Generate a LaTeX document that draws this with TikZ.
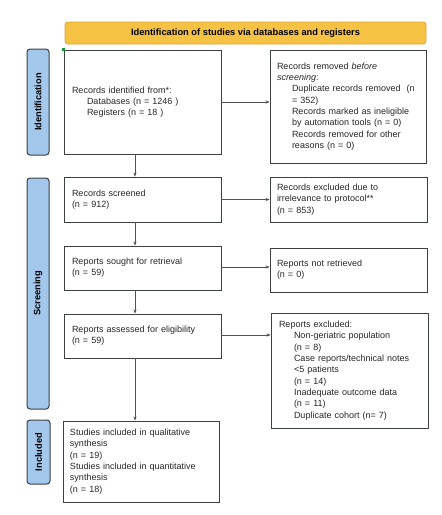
\documentclass[tikz,border=0pt]{standalone}
\usepackage{fontspec}
\setmainfont{Liberation Sans}
\usetikzlibrary{arrows.meta}
\definecolor{boxc}{HTML}{3C4043}
\definecolor{arrc}{HTML}{505050}
\definecolor{hdrfill}{HTML}{F6C244}
\definecolor{hdrdraw}{HTML}{E0A535}
\definecolor{sidefill}{HTML}{A4C8EC}
\definecolor{dotc}{HTML}{1E8E3E}
\newcommand{\ind}{\hspace*{15pt}}
\tikzset{
  txtfont/.style={font=\fontsize{9}{11.3}\selectfont},
  flowbox/.style={draw=boxc, line width=0.9pt, inner xsep=8pt, inner ysep=0pt, align=left, txtfont, text=black!85},
  sidebar/.style={draw=boxc, line width=1pt, fill=sidefill, rounded corners=3pt, inner sep=0pt,
    font=\fontsize{9.3}{11}\selectfont\bfseries},
  arr/.style={draw=arrc, line width=0.6pt, -{Stealth[length=4pt,width=3.2pt]}}
}
\begin{document}
\begin{tikzpicture}[x=1pt,y=-1pt]
\useasboundingbox (0,0) rectangle (442,515);
% header
\node[draw=hdrdraw, line width=0.8pt, fill=hdrfill, rounded corners=3pt, minimum width=361pt, minimum height=22pt,
  inner sep=0pt, font=\fontsize{9.3}{11}\selectfont\bfseries] (hdr) at (245.5,33) {Identification of studies via databases and registers};
% side bars
\node[sidebar, minimum width=22pt, minimum height=106pt] (idb) at (38,102) {};
\node[rotate=90, font=\fontsize{9.3}{11}\selectfont\bfseries] (idbt) at (idb.center) {Identification};
\node[sidebar, minimum width=22pt, minimum height=231pt] (scb) at (38,293.5) {};
\node[rotate=90, font=\fontsize{9.3}{11}\selectfont\bfseries] (scbt) at (scb.center) {Screening};
\node[sidebar, minimum width=23pt, minimum height=64pt] (inb) at (38.5,452) {};
\node[rotate=90, font=\fontsize{9.3}{11}\selectfont\bfseries] (inbt) at (inb.center) {Included};
% boxes
\node[flowbox, text width=141pt, minimum height=104pt] (b1) at (142.5,102)
  {Records identified from*:\\ \ind Databases (n = 1246 )\\ \ind Registers (n = 18 )};
\node[flowbox, inner xsep=7pt, text width=142pt, minimum height=113pt] (rem) at (348,106.5)
  {Records removed \textit{before}\\ \textit{screening}:\\ \ind Duplicate records removed\ \ (n\\ \ind = 352)\\ \ind Records marked as ineligible\\ \ind by automation tools (n = 0)\\ \ind Records removed for other\\ \ind reasons (n = 0)};
\node[flowbox, text width=141pt, minimum height=45pt] (scr) at (142.5,199.5)
  {Records screened\\ (n = 912)};
\node[flowbox, inner xsep=7pt, text width=143pt, minimum height=45pt] (exc) at (348.5,199.5)
  {Records excluded due to\\ irrelevance to protocol**\\ (n = 853)};
\node[flowbox, text width=141pt, minimum height=44pt] (sou) at (142.5,268)
  {Reports sought for retrieval\\ (n = 59)};
\node[flowbox, inner xsep=7pt, text width=143pt, minimum height=44pt] (nr) at (348.5,270)
  {Reports not retrieved\\ (n = 0)};
\node[flowbox, text width=141pt, minimum height=44pt] (ass) at (142.5,336)
  {Reports assessed for eligibility\\ (n = 59)};
\node[flowbox, inner xsep=8pt, text width=141pt, minimum height=115pt] (rex) at (349.5,370.5)
  {Reports excluded:\\ \ind Non-geriatric population\\ \ind (n = 8)\\ \ind Case reports/technical notes\\ \ind <5 patients\\ \ind (n = 14)\\ \ind Inadequate outcome data\\ \ind (n = 11)\\ \ind Duplicate cohort (n= 7)};
\node[flowbox, inner xsep=7pt, text width=142pt, minimum height=81pt] (inc) at (141,461.5)
  {Studies included in qualitative\\ synthesis\\ (n = 19)\\ Studies included in quantitative\\ synthesis\\ (n = 18)};
% small green marker
\fill[dotc] (b1.north west) ++(-1.2,-1.2) rectangle ++(2.4,2.4);
% connectors
\coordinate (ax) at (135,0);
\draw[arr] (b1.south -| ax) -- (scr.north -| ax);
\draw[arr] (scr.south -| ax) -- (sou.north -| ax);
\draw[arr] (sou.south -| ax) -- (ass.north -| ax);
\draw[arr] (ass.south -| ax) -- (inc.north -| ax);
\draw[arr] (b1.east) -- (b1.east -| rem.west);
\draw[arr] (scr.east) -- (scr.east -| exc.west);
\draw[arr] ([yshift=1pt]sou.east) -- ([yshift=1pt]sou.east -| nr.west);
\draw[arr] ([yshift=1pt]ass.east) -- ([yshift=1pt]ass.east -| rex.west);
\end{tikzpicture}
\end{document}
